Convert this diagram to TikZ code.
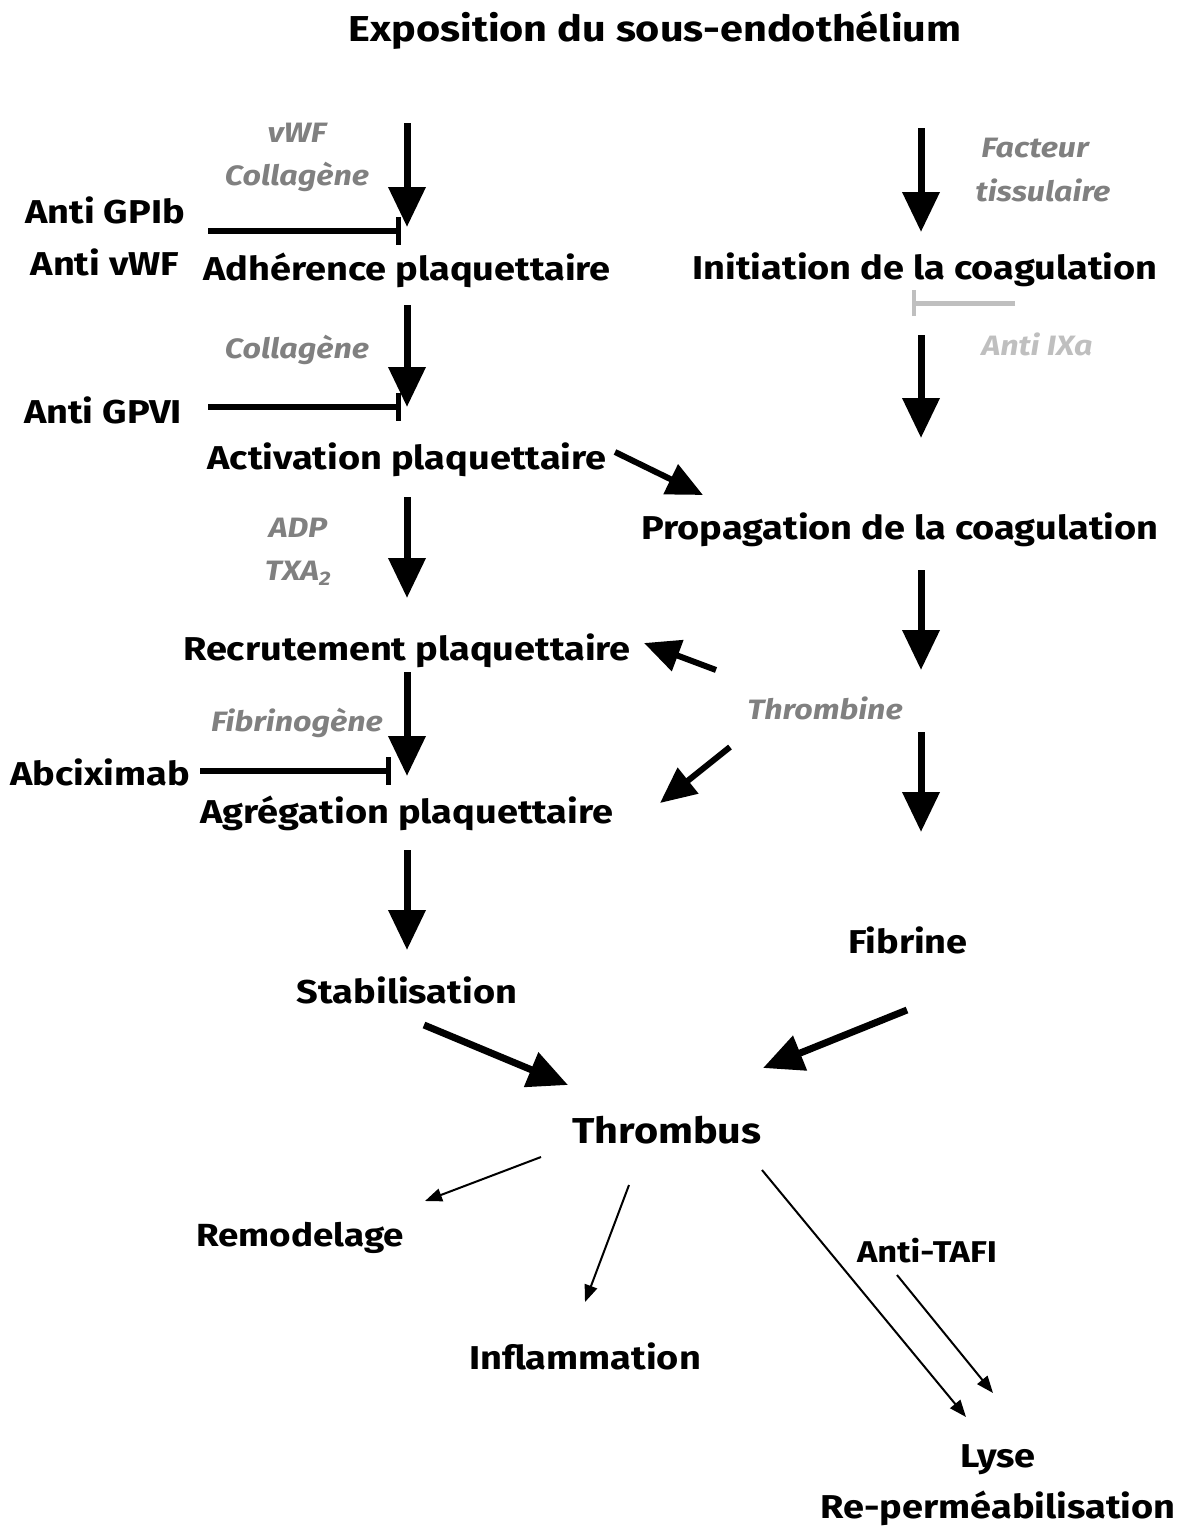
\documentclass[tikz,border=0pt]{standalone}
\usepackage{fontspec}
\setmainfont{Fira Sans}[FakeStretch=1.15]
\usetikzlibrary{arrows.meta}
\begin{document}
\begin{tikzpicture}[x=1pt,y=-1pt,
  lbl/.style={font=\fontsize{33}{35}\selectfont\bfseries, inner sep=0pt},
  glbl/.style={font=\fontsize{28}{30}\selectfont\bfseries\itshape, text=black!50, inner sep=0pt},
  big/.style={line width=7pt, -{Triangle[length=40pt,width=36pt]}},
  mid/.style={line width=6pt, -{Triangle[length=36pt,width=32pt]}},
  thinarr/.style={line width=2pt, -{Triangle[length=17pt,width=13pt]}},
  inh/.style={line width=6pt, -{Bar[width=28pt,line width=5pt]}},
  ginh/.style={line width=5pt, draw=black!25, -{Bar[width=26pt,line width=4pt]}}]
\useasboundingbox (0,0) rectangle (1183,1529);
% ---- texts
\node[lbl, font=\fontsize{36}{38}\selectfont\bfseries] (title) at (655,30) {Exposition du sous-endothélium};
\node[glbl] (vwf) at (297,133) {vWF};
\node[glbl] (col1) at (297,177) {Collagène};
\node[lbl] (gpib) at (105,210) {Anti GPIb};
\node[lbl] (avwf) at (105,262) {Anti vWF};
\node[lbl] (adh) at (407,270) {Adhérence plaquettaire};
\node[glbl] (col2) at (297,350) {Collagène};
\node[lbl] (gpvi) at (103,410) {Anti GPVI};
\node[lbl] (act) at (407,460) {Activation plaquettaire};
\node[glbl] (adp) at (298,528) {ADP};
\node[glbl] (txa) at (298,573) {TXA\textsubscript{2}};
\node[lbl] (rec) at (407,651) {Recrutement plaquettaire};
\node[glbl] (fib) at (297,723) {Fibrinogène};
\node[lbl] (abc) at (100,772) {Abciximab};
\node[lbl] (agr) at (407,813) {Agrégation plaquettaire};
\node[lbl] (stab) at (407,990) {Stabilisation};
\node[lbl, font=\fontsize{36}{38}\selectfont\bfseries] (thr) at (667,1130) {Thrombus};
\node[glbl] (fact) at (1035,148) {Facteur};
\node[glbl] (tiss) at (1043,190) {tissulaire};
\node[lbl] (init) at (925,270) {Initiation de la coagulation};
\node[glbl, text=black!25] (aixa) at (1037,344) {Anti IXa};
\node[lbl] (prop) at (900,530) {Propagation de la coagulation};
\node[glbl] (thb) at (825,708) {Thrombine};
\node[lbl] (fibr) at (908,940) {Fibrine};
\node[lbl, font=\fontsize{32}{34}\selectfont\bfseries] (remo) at (300,1238) {Remodelage};
\node[lbl] (infl) at (585,1356) {Inflammation};
\node[lbl, font=\fontsize{30}{32}\selectfont\bfseries] (tafi) at (927,1251) {Anti-TAFI};
\node[lbl] (lyse) at (998,1460) {Lyse};
\node[lbl] (reperm) at (998,1508) {Re-perméabilisation};
% ---- connector end points
\coordinate (l1s) at (407,123); \coordinate (l1e) at (407,227);
\coordinate (l2s) at (407,305); \coordinate (l2e) at (407,407);
\coordinate (l3s) at (407,497); \coordinate (l3e) at (407,598);
\coordinate (l4s) at (407,672); \coordinate (l4e) at (407,776);
\coordinate (l5s) at (407,850); \coordinate (l5e) at (407,950);
\coordinate (stabs) at (424,1025); \coordinate (stabe) at (568,1085);
\coordinate (r1s) at (921,128); \coordinate (r1e) at (921,232);
\coordinate (r2s) at (921,335); \coordinate (r2e) at (921,438);
\coordinate (acts) at (615,452); \coordinate (acte) at (703,495);
\coordinate (r3s) at (921,570); \coordinate (r3e) at (921,670);
\coordinate (t1s) at (716,670); \coordinate (t1e) at (644,643);
\coordinate (t2s) at (730,747); \coordinate (t2e) at (660,803);
\coordinate (r4s) at (921,732); \coordinate (r4e) at (921,832);
\coordinate (fibs) at (907,1010); \coordinate (fibe) at (763,1068);
\coordinate (th1s) at (541,1157); \coordinate (th1e) at (425,1201);
\coordinate (th2s) at (629,1185); \coordinate (th2e) at (585,1302);
\coordinate (th3s) at (762,1170); \coordinate (th3e) at (966,1417);
\coordinate (tfs) at (897,1275); \coordinate (tfe) at (993,1393);
\coordinate (i1s) at (208,231); \coordinate (i1e) at (401,231);
\coordinate (i2s) at (208,407); \coordinate (i2e) at (401,407);
\coordinate (i3s) at (200,771); \coordinate (i3e) at (391,771);
\coordinate (i4s) at (1015,303); \coordinate (i4e) at (912,303);
% ---- connectors
\draw[big] (l1s) -- (l1e);
\draw[big] (l2s) -- (l2e);
\draw[big] (l3s) -- (l3e);
\draw[big] (l4s) -- (l4e);
\draw[big] (l5s) -- (l5e);
\draw[big] (stabs) -- (stabe);
\draw[big] (r1s) -- (r1e);
\draw[big] (r2s) -- (r2e);
\draw[mid] (acts) -- (acte);
\draw[big] (r3s) -- (r3e);
\draw[mid] (t1s) -- (t1e);
\draw[mid] (t2s) -- (t2e);
\draw[big] (r4s) -- (r4e);
\draw[big] (fibs) -- (fibe);
\draw[thinarr] (th1s) -- (th1e);
\draw[thinarr] (th2s) -- (th2e);
\draw[thinarr] (th3s) -- (th3e);
\draw[thinarr] (tfs) -- (tfe);
\draw[inh] (i1s) -- (i1e);
\draw[inh] (i2s) -- (i2e);
\draw[inh] (i3s) -- (i3e);
\draw[ginh] (i4s) -- (i4e);
\end{tikzpicture}
\end{document}
